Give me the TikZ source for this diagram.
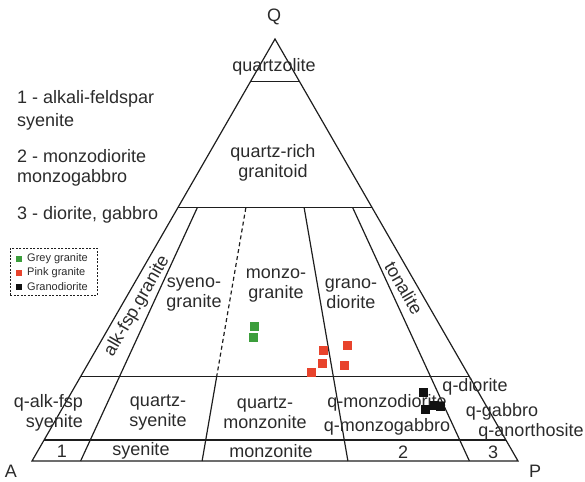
\documentclass[tikz,border=0pt]{standalone}
\usepackage{fontspec}
\setmainfont{Liberation Sans}
\usetikzlibrary{calc}
\definecolor{txt}{HTML}{2B2B2B}
\definecolor{ln}{HTML}{1E1E1E}
\definecolor{grn}{HTML}{3C9E3C}
\definecolor{rd}{HTML}{E8432C}
\definecolor{blk}{HTML}{111111}
\begin{document}
\begin{tikzpicture}[x=1pt,y=-1pt,
  lab/.style={font=\fontsize{18}{20}\selectfont, text=txt, inner sep=0pt, align=center},
  legtxt/.style={font=\fontsize{11}{13}\selectfont, text=txt, inner sep=0pt, anchor=west},
  border/.style={draw=ln, line width=1.2pt},
  divline/.style={draw=ln, line width=1.2pt},
  dashline/.style={draw=ln, line width=1.2pt, dash pattern=on 4pt off 3pt},
  mk/.style={minimum size=9pt, inner sep=0pt, draw=none},
  legmk/.style={minimum size=6pt, inner sep=0pt, draw=none}]
\useasboundingbox (0,0) rectangle (585,481);
% vertices
\coordinate (A) at (32,461);
\coordinate (P) at (518,461);
\coordinate (Q) at (275,39);
% base points of ratio lines
\coordinate (b10) at ($(A)!0.10!(P)$);
\coordinate (b35) at ($(A)!0.35!(P)$);
\coordinate (b65) at ($(A)!0.65!(P)$);
\coordinate (b90) at ($(A)!0.90!(P)$);
% horizontal levels
\coordinate (L90) at ($(A)!0.9!(Q)$); \coordinate (R90) at ($(P)!0.9!(Q)$);
\coordinate (L60) at ($(A)!0.6!(Q)$); \coordinate (R60) at ($(P)!0.6!(Q)$);
\coordinate (L20) at ($(A)!0.2!(Q)$); \coordinate (R20) at ($(P)!0.2!(Q)$);
\coordinate (L05) at ($(A)!0.05!(Q)$); \coordinate (R05) at ($(P)!0.05!(Q)$);
% ratio line tops
\coordinate (t10) at ($(b10)!0.6!(Q)$);
\coordinate (t35) at ($(b35)!0.6!(Q)$);
\coordinate (m35) at ($(b35)!0.2!(Q)$);
\coordinate (t65) at ($(b65)!0.6!(Q)$);
\coordinate (t90) at ($(b90)!0.6!(Q)$);

\draw[border, line join=miter] (A) -- (P) -- (Q) -- cycle;
\draw[divline] (L90) -- (R90);
\draw[divline] (L60) -- (R60);
\draw[divline] (L20) -- (R20);
\draw[divline] (L05) -- (R05);
\draw[divline] (t10) -- (b10);
\draw[dashline] (t35) -- (m35);
\draw[divline] (m35) -- (b35);
\draw[divline] (t65) -- (b65);
\draw[divline] (t90) -- (b90);

% vertex labels
\node[lab] (lQ) at (274,17) {Q};
\node[lab] (lA) at (11,471) {A};
\node[lab] (lP) at (535,471) {P};

% key text
\node[lab, align=left, anchor=west] (k1) at (17,110.5) {1 - alkali-feldspar\\[3pt]syenite};
\node[lab, align=left, anchor=west] (k2) at (17,168) {2 - monzodiorite\\monzogabbro};
\node[lab, align=left, anchor=west] (k3) at (17,215) {3 - diorite, gabbro};

% field labels
\node[lab] (f1) at (274,67) {quartzolite};
\node[lab] (f2) at (273,163) {quartz-rich\\granitoid};
\node[lab, rotate=60] (f3) at (137,306) {alk-fsp.granite};
\node[lab] (f4) at (194,295) {syeno-\\granite};
\node[lab] (f5) at (276,286) {monzo-\\granite};
\node[lab] (f6) at (351,294) {grano-\\diorite};
\node[lab, rotate=-60] (f7) at (404,288) {tonalite};
\node[lab, align=right, anchor=east] (f8) at (83,413) {q-alk-fsp\\syenite};
\node[lab] (f9) at (158,413) {quartz-\\syenite};
\node[lab] (f10) at (265,413) {quartz-\\monzonite};
\node[lab] (f11) at (387,415) {q-monzodiorite\\[4pt]q-monzogabbro};
\node[lab] (f12) at (475,387) {q-diorite};
\node[lab] (f13) at (502,412) {q-gabbro};
\node[lab] (f14) at (531,432) {q-anorthosite};
\node[lab] (f15) at (62,451) {1};
\node[lab] (f16) at (141,451) {syenite};
\node[lab] (f17) at (271,451) {monzonite};
\node[lab] (f18) at (403,452) {2};
\node[lab] (f19) at (493,452) {3};

% legend
\node[draw=ln, line width=0.6pt, dash pattern=on 2pt off 1.5pt, minimum width=87pt, minimum height=47pt, anchor=north west, inner sep=0pt] (legend) at (10,248) {};
\node[legmk, fill=grn] (lg1) at (19,259) {};
\node[legmk, fill=rd] (lg2) at (19,273) {};
\node[legmk, fill=blk] (lg3) at (19,287) {};
\node[legtxt] (lt1) at (27,259) {Grey granite};
\node[legtxt] (lt2) at (27,273) {Pink granite};
\node[legtxt] (lt3) at (27,287) {Granodiorite};

% data
\node[mk, fill=grn] (g1) at (254,326) {};
\node[mk, fill=grn] (g2) at (253,337) {};
\node[mk, fill=rd] (r1) at (323,350) {};
\node[mk, fill=rd] (r2) at (322,363) {};
\node[mk, fill=rd] (r3) at (311,372) {};
\node[mk, fill=rd] (r4) at (347,345) {};
\node[mk, fill=rd] (r5) at (344,365) {};
\node[mk, fill=blk] (k1a) at (423,392) {};
\node[mk, fill=blk] (k2a) at (425,409) {};
\node[mk, fill=blk] (k3a) at (434,405) {};
\node[mk, fill=blk] (k4a) at (440,406) {};
\end{tikzpicture}
\end{document}
